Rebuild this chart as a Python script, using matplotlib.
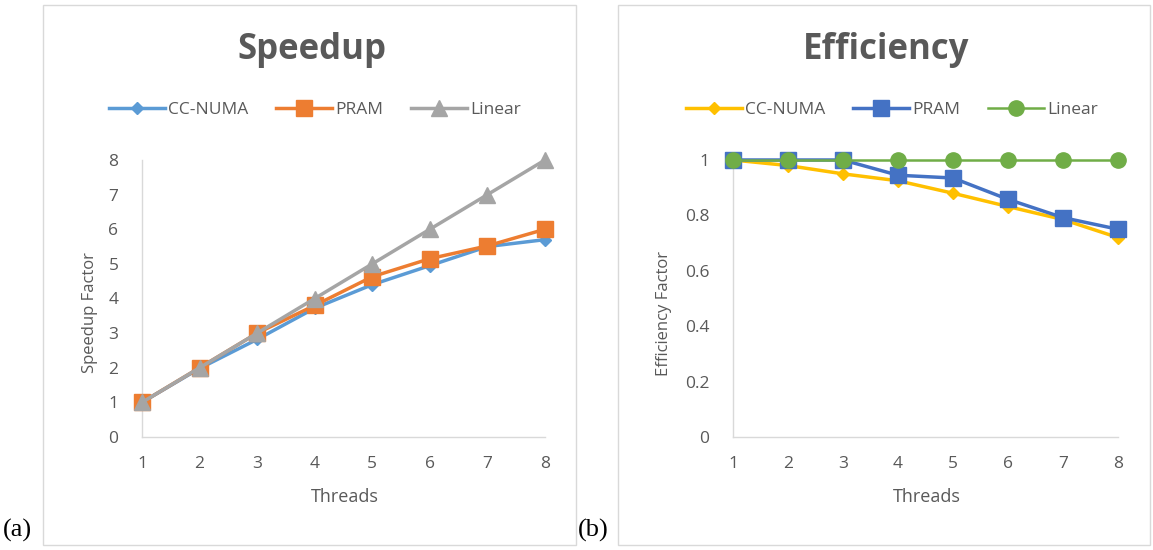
import numpy as np
import matplotlib
matplotlib.use('Agg')
import matplotlib.pyplot as plt
from matplotlib.patches import Rectangle

# data
threads = [1, 2, 3, 4, 5, 6, 7, 8]
speed_ccnuma = [1, 1.98, 2.82, 3.72, 4.4, 4.95, 5.5, 5.7]
speed_pram = [1, 2, 3, 3.8, 4.63, 5.15, 5.52, 6.0]
speed_linear = [1, 2, 3, 4, 5, 6, 7, 8]
eff_ccnuma = [1, 0.98, 0.95, 0.925, 0.88, 0.832, 0.785, 0.72]
eff_pram = [1, 1, 1, 0.945, 0.935, 0.858, 0.792, 0.75]
eff_linear = [1, 1, 1, 1, 1, 1, 1, 1]

plt.rcParams['font.family'] = ['Open Sans', 'DejaVu Sans']
TXT = '#595959'
AX = '#d9d9d9'

W, H = 1153, 550
fig = plt.figure(figsize=(W / 100, H / 100), dpi=100)


def fx(px):
    return px / W


def fy(py):
    return 1 - py / H


# chart frames
for x0, x1 in [(43, 576), (618, 1150)]:
    fig.patches.append(Rectangle((fx(x0), fy(545)), fx(x1) - fx(x0), fy(5) - fy(545),
                                 transform=fig.transFigure, fill=False, edgecolor=AX, lw=1.0))


def style_axes(ax, ymax, yticks, yfmt):
    ax.set_xlim(1, 8)
    ax.set_ylim(0, ymax)
    ax.set_xticks(threads)
    ax.set_yticks(yticks)
    ax.set_yticklabels([yfmt(v) for v in yticks])
    for s in ['top', 'right']:
        ax.spines[s].set_visible(False)
    for s in ['left', 'bottom']:
        ax.spines[s].set_color(AX)
        ax.spines[s].set_linewidth(1.0)
    ax.tick_params(length=0, colors=TXT, labelsize=12.5)
    ax.tick_params(axis='x', pad=14)
    ax.tick_params(axis='y', pad=17)


# (a) speedup
ax1 = fig.add_axes([fx(142), fy(437), fx(545) - fx(142), fy(160) - fy(437)])
ax1.plot(threads, speed_ccnuma, color='#5B9BD5', lw=2.5, marker='D', ms=6, label='CC-NUMA', clip_on=False, zorder=3)
ax1.plot(threads, speed_pram, color='#ED7D31', lw=2.5, marker='s', ms=11.5, label='PRAM', clip_on=False, zorder=4)
ax1.plot(threads, speed_linear, color='#A5A5A5', lw=2.5, marker='^', ms=11, label='Linear', clip_on=False, zorder=5)
style_axes(ax1, 8, range(0, 9), lambda v: f'{v}')
ax1.legend(loc='center', bbox_to_anchor=(fx(315), fy(110)), bbox_transform=fig.transFigure,
           ncol=3, frameon=False, fontsize=12.5, handlelength=3.2, columnspacing=1.6,
           handletextpad=0.2, labelcolor=TXT)

# (b) efficiency
ax2 = fig.add_axes([fx(733), fy(437), fx(1118) - fx(733), fy(160) - fy(437)])
ax2.plot(threads, eff_ccnuma, color='#FFC000', lw=2.5, marker='D', ms=6, label='CC-NUMA', clip_on=False, zorder=3)
ax2.plot(threads, eff_pram, color='#4472C4', lw=2.5, marker='s', ms=11.5, label='PRAM', clip_on=False, zorder=4)
ax2.plot(threads, eff_linear, color='#70AD47', lw=1.8, marker='o', ms=11, label='Linear', clip_on=False, zorder=5)
style_axes(ax2, 1, np.linspace(0, 1, 6), lambda v: '0' if v == 0 else ('1' if v == 1 else f'{v:.1f}'))
ax2.legend(loc='center', bbox_to_anchor=(fx(892), fy(110)), bbox_transform=fig.transFigure,
           ncol=3, frameon=False, fontsize=12.5, handlelength=3.2, columnspacing=1.6,
           handletextpad=0.2, labelcolor=TXT)

# titles and axis labels
fig.text(fx(312), fy(50), 'Speedup', ha='center', va='center', fontsize=25, fontweight='bold', color=TXT)
fig.text(fx(886), fy(50), 'Efficiency', ha='center', va='center', fontsize=25, fontweight='bold', color=TXT)
fig.text(fx(90), fy(313), 'Speedup Factor', ha='center', va='center', rotation=90, fontsize=12, color=TXT)
fig.text(fx(664), fy(314), 'Efficiency Factor', ha='center', va='center', rotation=90, fontsize=12, color=TXT)
fig.text(fx(345), fy(497), 'Threads', ha='center', va='center', fontsize=13, color=TXT)
fig.text(fx(927), fy(497), 'Threads', ha='center', va='center', fontsize=13, color=TXT)

# panel tags
fig.text(fx(3), fy(530), '(a)', ha='left', va='center', fontsize=19, family='Liberation Serif', color='black')
fig.text(fx(578), fy(530), '(b)', ha='left', va='center', fontsize=19, family='Liberation Serif', color='black')

fig.savefig('out.png', dpi=100)
